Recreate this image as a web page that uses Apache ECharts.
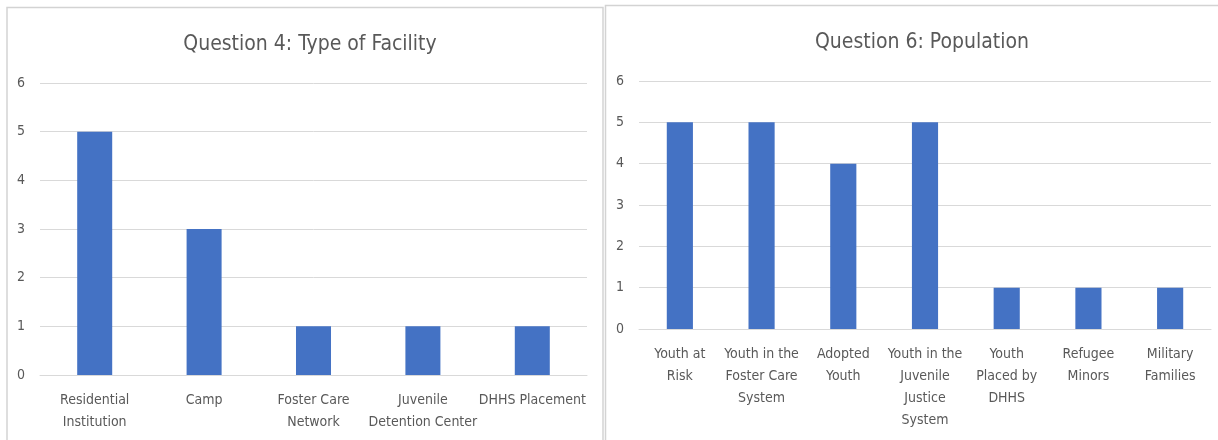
<!DOCTYPE html>
<html>
<head>
<meta charset="utf-8">
<script src="https://cdn.jsdelivr.net/npm/echarts@6/dist/echarts.min.js"></script>
<style>
  html, body { margin: 0; padding: 0; background: #fff; }
  #chart { width: 1218px; height: 440px; }
</style>
</head>
<body>
<div id="chart"></div>
<script>
const facilityTitle = "Question 4: Type of Facility";
const facilityCategories = ["Residential\nInstitution", "Camp", "Foster Care\nNetwork", "Juvenile\nDetention Center", "DHHS Placement"];
const facilityValues = [5, 3, 1, 1, 1];

const populationTitle = "Question 6: Population";
const populationCategories = ["Youth at\nRisk", "Youth in the\nFoster Care\nSystem", "Adopted\nYouth", "Youth in the\nJuvenile\nJustice\nSystem", "Youth\nPlaced by\nDHHS", "Refugee\nMinors", "Military\nFamilies"];
const populationValues = [5, 5, 4, 5, 1, 1, 1];

const yTicks = { min: 0, max: 6, interval: 1 };

const FONT = '"Liberation Sans Narrow", "DejaVu Sans Condensed", sans-serif';
const TEXT = '#595959';
const GRID = '#d9d9d9';
const BAR = '#4472C4';

const chart = echarts.init(document.getElementById('chart'), null, { renderer: 'canvas' });

function xAxisCfg(idx, cats) {
  return {
    type: 'category', gridIndex: idx, data: cats,
    axisLine: { show: true, lineStyle: { color: GRID, width: 1 } },
    axisTick: { show: false },
    axisLabel: { color: TEXT, fontFamily: FONT, fontSize: 14, lineHeight: 22, margin: 14, interval: 0 }
  };
}
function yAxisCfg(idx) {
  return {
    type: 'value', gridIndex: idx, min: yTicks.min, max: yTicks.max, interval: yTicks.interval,
    axisLine: { show: false }, axisTick: { show: false },
    axisLabel: { color: TEXT, fontFamily: FONT, fontSize: 14, margin: 15 },
    splitLine: { show: true, lineStyle: { color: GRID, width: 1 } }
  };
}

chart.setOption({
  animation: false,
  backgroundColor: '#fff',
  title: [
    { text: facilityTitle, left: 305, top: 29, textAlign: 'center',
      textStyle: { color: TEXT, fontFamily: FONT, fontSize: 21, fontWeight: 'normal' } },
    { text: populationTitle, left: 917, top: 27, textAlign: 'center',
      textStyle: { color: TEXT, fontFamily: FONT, fontSize: 21, fontWeight: 'normal' } }
  ],
  graphic: [
    { type: 'rect', shape: { x: 7, y: 7.5, width: 596, height: 450 },
      style: { fill: 'none', stroke: '#d3d3d3', lineWidth: 1.5 }, silent: true, z: -1 },
    { type: 'rect', shape: { x: 605.5, y: 5.5, width: 630, height: 450 },
      style: { fill: 'none', stroke: '#d3d3d3', lineWidth: 1.5 }, silent: true, z: -1 }
  ],
  grid: [
    { left: 40, right: 631, top: 83, bottom: 65 },
    { left: 639, right: 7, top: 81, bottom: 111 }
  ],
  xAxis: [xAxisCfg(0, facilityCategories), xAxisCfg(1, populationCategories)],
  yAxis: [yAxisCfg(0), yAxisCfg(1)],
  series: [
    { type: 'bar', xAxisIndex: 0, yAxisIndex: 0, data: facilityValues, barWidth: '32%',
      itemStyle: { color: BAR } },
    { type: 'bar', xAxisIndex: 1, yAxisIndex: 1, data: populationValues, barWidth: '32%',
      itemStyle: { color: BAR } }
  ]
});
</script>
</body>
</html>
